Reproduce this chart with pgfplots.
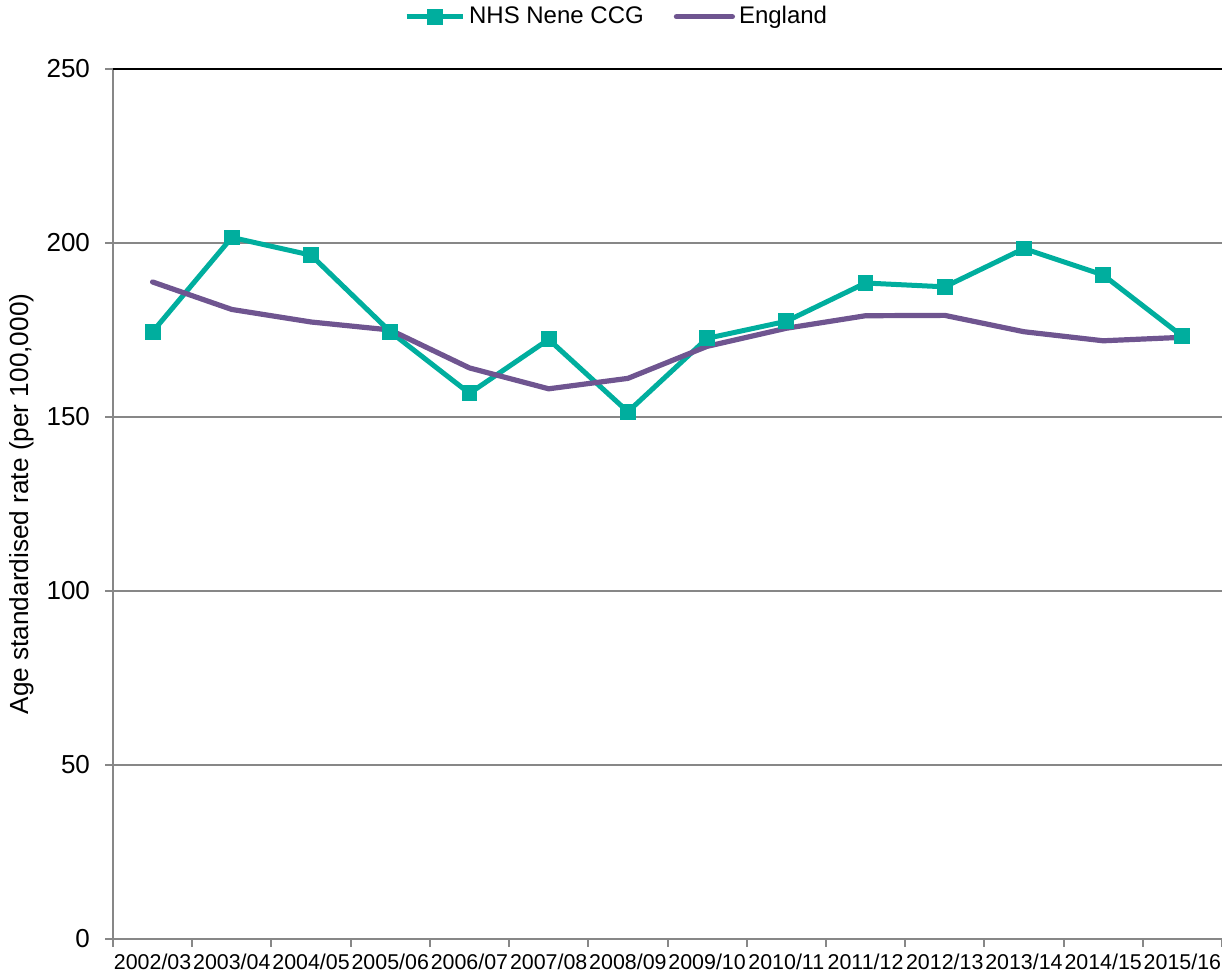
\documentclass[border=0pt]{standalone}
\usepackage{pgfplots}
\pgfplotsset{compat=1.18}
\usepackage{fontspec}
\setmainfont{Liberation Sans}
\definecolor{nene}{HTML}{00AE9E}
\definecolor{eng}{HTML}{6F5590}
\definecolor{gridgray}{HTML}{878787}
\begin{document}
\begin{tikzpicture}
\begin{axis}[
  at={(0,0)}, anchor=south west,
  width=554.5pt, height=435pt, scale only axis,
  xmin=-0.5, xmax=13.5, ymin=0, ymax=250,
  axis x line*=bottom, axis y line*=left,
  axis line style={gridgray, line width=1pt, -},
  xtick={-0.5,0.5,...,13.5},
  x tick label as interval,
  xticklabels={2002/03,2003/04,2004/05,2005/06,2006/07,2007/08,2008/09,2009/10,2010/11,2011/12,2012/13,2013/14,2014/15,2015/16},
  ytick={0,50,...,250},
  tick align=outside,
  major tick length=4pt,
  tick style={gridgray, line width=1pt},
  ymajorgrids,
  grid style={gridgray, line width=1pt},
  extra y ticks={250},
  extra y tick labels={},
  extra y tick style={grid style={black, line width=1pt}, major tick length=0pt},
  /pgf/number format/assume math mode=true,
  yticklabel style={font=\fontsize{13}{15}\selectfont},
  xticklabel style={font=\fontsize{10.7}{12}\selectfont},
  yticklabel shift=4pt,
  ylabel={Age standardised rate (per 100,000)},
  every axis y label/.style={at={(axis description cs:-0.082,0.5)}, rotate=90, anchor=center, font=\fontsize{13.1}{15}\selectfont},
  legend columns=2,
  legend style={at={(0.455,1.06)}, anchor=center, draw=none, fill=none,
    font=\fontsize{12}{14}\selectfont,
    /tikz/every even column/.append style={column sep=13pt}},
  legend image code/.code={\draw[mark repeat=2,mark phase=2,#1] plot coordinates {(0pt,0pt) (14pt,0pt) (28pt,0pt)};},
]
\addplot[color=nene, line width=2.5pt, mark=square*, mark size=3.7pt, mark options={solid, line width=0pt}, line join=round]
coordinates {(0,174.5) (1,201.6) (2,196.5) (3,174.5) (4,156.8) (5,172.3) (6,151.5) (7,172.6) (8,177.5) (9,188.5) (10,187.4) (11,198.4) (12,190.8) (13,173.2)};
\addlegendentry{NHS Nene CCG}
\addplot[color=eng, line width=2.6pt, no marks, line cap=round, line join=round]
coordinates {(0,188.8) (1,180.9) (2,177.3) (3,175.0) (4,164.1) (5,158.1) (6,161.1) (7,170.3) (8,175.5) (9,179.1) (10,179.2) (11,174.5) (12,171.9) (13,172.9)};
\addlegendentry{England}
\end{axis}
\pgfresetboundingbox
\path[use as bounding box] (-56.5pt,-18pt) rectangle (554.5pt,469.5pt);
\end{tikzpicture}
\end{document}
